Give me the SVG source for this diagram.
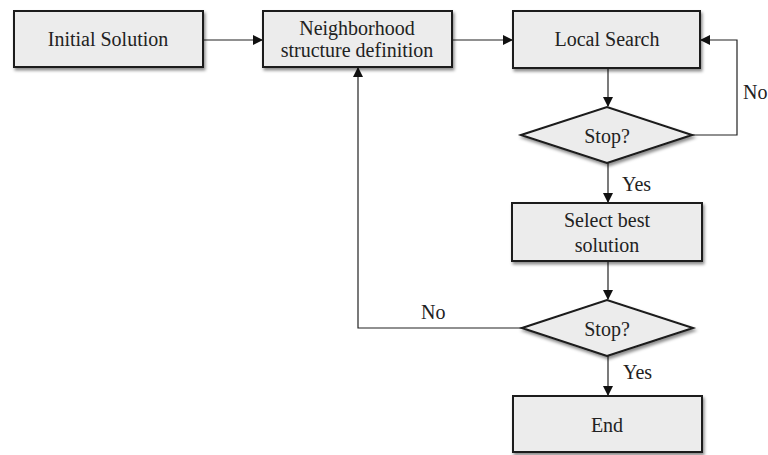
<svg xmlns="http://www.w3.org/2000/svg" width="768" height="455" viewBox="0 0 768 455">
<defs>
<filter id="sh" x="-10%" y="-10%" width="130%" height="140%">
<feDropShadow dx="1.5" dy="2.5" stdDeviation="1.5" flood-color="#000" flood-opacity="0.45"/>
</filter>
<marker id="ah" markerWidth="10" markerHeight="10" refX="9" refY="5" orient="auto" markerUnits="userSpaceOnUse">
<path d="M0,0 L10,5 L0,10 Z" fill="#111"/>
</marker>
</defs>
<style>
.box{fill:#ececec;stroke:#1a1a1a;stroke-width:2;filter:url(#sh)}
.c{fill:none;stroke:#222;stroke-width:1.2;marker-end:url(#ah)}
</style>
<rect width="768" height="455" fill="#fff"/>
<g id="connectors">
<path class="c" d="M203,40 H262"/>
<path class="c" d="M452,40 H512"/>
<path class="c" d="M608,68 V106"/>
<path class="c" d="M692,135 H737 V40 H701"/>
<path class="c" d="M608,163 V202"/>
<path class="c" d="M608,261 V299"/>
<path class="c" d="M522,328 H358 V68"/>
<path class="c" d="M608,356 V395"/>
<g font-family="Liberation Serif, Times New Roman, serif" font-size="20" fill="#222">
<text x="743" y="99">No</text>
<text x="622" y="191">Yes</text>
<text x="421" y="319">No</text>
<text x="623" y="379">Yes</text>
</g>
</g>
<g id="initial">
<rect class="box" x="14" y="11" width="189" height="56"/>
<text font-family="Liberation Serif, Times New Roman, serif" font-size="20" fill="#222" text-anchor="middle" x="108" y="46">Initial Solution</text>
</g>
<g id="neighborhood">
<rect class="box" x="263" y="11" width="189" height="56"/>
<text font-family="Liberation Serif, Times New Roman, serif" font-size="20" fill="#222" text-anchor="middle" x="357" y="35">Neighborhood</text>
<text font-family="Liberation Serif, Times New Roman, serif" font-size="20" fill="#222" text-anchor="middle" x="357" y="57">structure definition</text>
</g>
<g id="local">
<rect class="box" x="513" y="11" width="187" height="57"/>
<text font-family="Liberation Serif, Times New Roman, serif" font-size="20" fill="#222" text-anchor="middle" x="607" y="46">Local Search</text>
</g>
<g id="stop1">
<polygon class="box" points="521,135 607,107 692,135 607,163"/>
<text font-family="Liberation Serif, Times New Roman, serif" font-size="20" fill="#222" text-anchor="middle" x="607" y="143">Stop?</text>
</g>
<g id="select">
<rect class="box" x="512" y="203" width="190" height="58"/>
<text font-family="Liberation Serif, Times New Roman, serif" font-size="20" fill="#222" text-anchor="middle" x="607" y="227">Select best</text>
<text font-family="Liberation Serif, Times New Roman, serif" font-size="20" fill="#222" text-anchor="middle" x="607" y="252">solution</text>
</g>
<g id="stop2">
<polygon class="box" points="522,328 607,300 693,328 607,356"/>
<text font-family="Liberation Serif, Times New Roman, serif" font-size="20" fill="#222" text-anchor="middle" x="607" y="336">Stop?</text>
</g>
<g id="end">
<rect class="box" x="513" y="396" width="189" height="56"/>
<text font-family="Liberation Serif, Times New Roman, serif" font-size="20" fill="#222" text-anchor="middle" x="607" y="432">End</text>
</g>
</svg>
